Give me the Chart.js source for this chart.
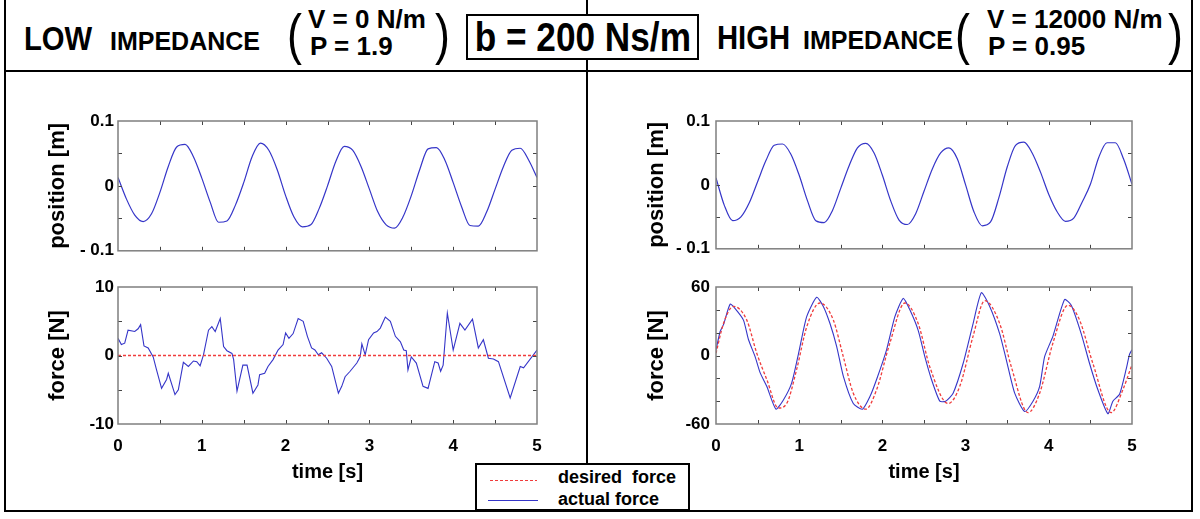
<!DOCTYPE html>
<html>
<head>
<meta charset="utf-8">
<script src="https://cdn.jsdelivr.net/npm/chart.js@4"></script>
<style>
  body { margin: 0; background: #fff; }
  #fig { position: relative; width: 1200px; height: 519px; overflow: hidden;
         font-family: 'Liberation Sans', Arial, sans-serif; font-weight: bold; color: #000; }
  #fig canvas { position: absolute; }
  .t { position: absolute; white-space: pre; line-height: 1; }
  .sq { transform: scaleX(0.86); transform-origin: 0 0; }
  .paren { font-weight: normal; font-size: 56px; transform: scaleX(0.8); transform-origin: 0 0; }
  .rule { position: absolute; background: #000; }
  #bbox { position: absolute; left: 466px; top: 14px; width: 229px; height: 42px; border: 2px solid #000;
          background: #fff; display: flex; align-items: center; justify-content: center; }
  #bbox span { display: inline-block; font-size: 40px; line-height: 1; white-space: pre; transform: scaleX(0.88); }
  #legend { position: absolute; left: 475px; top: 463px; width: 211px; height: 44px; border: 2px solid #000; background: #fff; }
  #legend .sw { position: absolute; height: 1px; }
  #legend .t { font-size: 18px; }
</style>
</head>
<body>
<div id="fig">
  <canvas id="posLow" width="587" height="165" style="left:0;top:100px"></canvas>
  <canvas id="forceLow" width="587" height="215" style="left:0;top:270px"></canvas>
  <canvas id="posHigh" width="608" height="165" style="left:587px;top:100px"></canvas>
  <canvas id="forceHigh" width="608" height="215" style="left:587px;top:270px"></canvas>

  <!-- frame -->
  <div class="rule" style="left:4px;top:0;width:2px;height:512px"></div>
  <div class="rule" style="left:1191px;top:0;width:2px;height:512px"></div>
  <div class="rule" style="left:4px;top:510px;width:1189px;height:2px"></div>
  <div class="rule" style="left:4px;top:70px;width:1189px;height:2px"></div>
  <div class="rule" style="left:586px;top:0;width:2px;height:463px"></div>

  <!-- header -->
  <div class="t sq" style="left:24px;top:21px;font-size:34px">LOW</div>
  <div class="t" style="left:110px;top:29px;font-size:25px">IMPEDANCE</div>
  <div class="t paren" style="left:287px;top:6px">(</div>
  <div class="t" style="left:308px;top:6px;font-size:26px">V = 0 N/m</div>
  <div class="t" style="left:310px;top:33px;font-size:26px">P = 1.9</div>
  <div class="t paren" style="left:435px;top:6px">)</div>

  <div id="bbox"><span>b = 200 Ns/m</span></div>

  <div class="t sq" style="left:717px;top:20px;font-size:34px">HIGH</div>
  <div class="t" style="left:803px;top:28px;font-size:25px">IMPEDANCE</div>
  <div class="t paren" style="left:955px;top:6px">(</div>
  <div class="t" style="left:987px;top:6px;font-size:26px">V = 12000 N/m</div>
  <div class="t" style="left:988px;top:33px;font-size:26px">P = 0.95</div>
  <div class="t paren" style="left:1168px;top:6px">)</div>

  <!-- legend -->
  <div id="legend">
    <div class="sw" style="left:13px;top:15px;width:47px;background:repeating-linear-gradient(90deg,#f03c3c 0 3px,transparent 3px 5px)"></div>
    <div class="t" style="left:81px;top:3px">desired  force</div>
    <div class="sw" style="left:11px;top:35px;width:50px;background:#3535c8"></div>
    <div class="t" style="left:81px;top:25px">actual force</div>
  </div>
</div>

<script>
// time axis for position traces [s]
const posTime = [0, 0.1, 0.2, 0.3, 0.4, 0.5, 0.6, 0.7, 0.8, 0.9,
  1.0, 1.1, 1.2, 1.3, 1.4, 1.5, 1.6, 1.7, 1.8, 1.9,
  2.0, 2.1, 2.2, 2.3, 2.4, 2.5, 2.6, 2.7, 2.8, 2.9,
  3.0, 3.1, 3.2, 3.3, 3.4, 3.5, 3.6, 3.7, 3.8, 3.9,
  4.0, 4.1, 4.2, 4.3, 4.4, 4.5, 4.6, 4.7, 4.8, 4.9, 5.0];

// position [m], low impedance
const posLow = [0.013, -0.020, -0.045, -0.055, -0.043, -0.010, 0.030, 0.060, 0.064, 0.045,
  0.012, -0.025, -0.056, -0.054, -0.030, 0.005, 0.045, 0.066, 0.055, 0.025,
  -0.015, -0.048, -0.063, -0.060, -0.035, 0.000, 0.038, 0.061, 0.055, 0.030,
  -0.005, -0.040, -0.060, -0.065, -0.048, -0.015, 0.025, 0.057, 0.059, 0.040,
  0.005, -0.032, -0.061, -0.062, -0.040, -0.005, 0.030, 0.055, 0.058, 0.040, 0.013];

// position [m], high impedance
const posHigh = [0.011, -0.032, -0.056, -0.050, -0.028, 0.005, 0.038, 0.062, 0.064, 0.048,
  0.015, -0.025, -0.056, -0.059, -0.040, -0.005, 0.030, 0.058, 0.065, 0.050,
  0.015, -0.025, -0.055, -0.062, -0.045, -0.010, 0.025, 0.050, 0.058, 0.041,
  0.000, -0.042, -0.064, -0.058, -0.020, 0.028, 0.062, 0.067, 0.050, 0.020,
  -0.015, -0.042, -0.057, -0.052, -0.027, 0.001, 0.043, 0.066, 0.066, 0.040, 0.001];

// force [N], low impedance
const forceLowDesiredT = [0, 5];
const forceLowDesired = [0, 0];
const forceLowT = [0, 0.04, 0.08, 0.12, 0.20, 0.24, 0.27, 0.31, 0.36, 0.42, 0.46, 0.52, 0.58, 0.60, 0.68,
  0.72, 0.78, 0.84, 0.90, 0.94, 0.98, 1.02, 1.08, 1.12, 1.16, 1.22, 1.26, 1.30, 1.36, 1.38,
  1.42, 1.49, 1.54, 1.61, 1.67, 1.69, 1.75, 1.79, 1.85, 1.91, 1.97, 2.00, 2.04, 2.09, 2.15,
  2.21, 2.26, 2.31, 2.35, 2.39, 2.43, 2.49, 2.55, 2.63, 2.67, 2.71, 2.77, 2.85, 2.89, 2.91,
  2.95, 2.99, 3.05, 3.09, 3.13, 3.19, 3.25, 3.31, 3.37, 3.41, 3.44, 3.46, 3.50, 3.56, 3.64,
  3.70, 3.78, 3.82, 3.85, 3.88, 3.93, 4.00, 4.08, 4.14, 4.23, 4.30, 4.36, 4.42, 4.48, 4.54,
  4.68, 4.80, 4.84, 5.00];
const forceLowActual = [2.5, 1.6, 1.8, 3.7, 3.5, 3.9, 4.5, 1.4, 1.1, -0.2, -2.1, -4.8, -3.5, -2.6, -5.7,
  -5.0, -1.0, -1.6, -0.8, -0.9, -1.5, 0.1, 3.7, 4.2, 3.5, 5.4, 1.3, 0.7, 0.3, -0.6,
  -5.2, -1.4, -1.4, -5.5, -4.3, -2.8, -2.6, -1.6, -0.6, 0.8, 1.6, 3.3, 2.5, 3.2, 5.4,
  5.0, 2.8, 1.1, 0.8, 0.1, 0.4, -0.4, -1.6, -5.5, -4.5, -3.1, -2.3, -1.1, -0.2, 1.7,
  0.1, 2.3, 3.3, 3.5, 4.0, 5.6, 5.0, 2.8, 2.0, 0.8, 0.7, -2.1, -0.2, -1.1, -4.5,
  -4.8, -0.9, -1.1, -2.3, -1.4, 6.2, 0.8, 4.7, 3.7, 5.3, 1.1, 2.3, -0.4, -0.5, -0.9,
  -6.2, -1.6, -1.8, 0.8];

// force [N], high impedance
const forceHighDesiredT = [0, 0.09, 0.21, 0.37, 0.49, 0.61, 0.75, 0.85, 0.97, 1.09, 1.25, 1.41,
  1.53, 1.65, 1.80, 1.93, 2.09, 2.27, 2.43, 2.57, 2.79, 2.93, 3.09, 3.23, 3.41, 3.55,
  3.75, 3.89, 4.05, 4.23, 4.37, 4.53, 4.75, 4.89, 5.0];
const forceHighDesired = [2, 28, 43, 31, 2, -21, -46, -42, -12, 25, 46, 31,
  -1, -33, -47, -30, 11, 46, 28, -10, -42, -27, 17, 48, 28, -10,
  -50, -33, 11, 44, 31, -7, -50, -30, -8];
const forceHighT = [0, 0.05, 0.09, 0.17, 0.23, 0.33, 0.39, 0.47, 0.53, 0.61, 0.72, 0.81, 0.91, 0.99,
  1.09, 1.21, 1.29, 1.37, 1.45, 1.53, 1.65, 1.76, 1.85, 1.93, 2.05, 2.15, 2.25, 2.33, 2.43,
  2.51, 2.59, 2.69, 2.76, 2.85, 2.97, 3.09, 3.19, 3.29, 3.41, 3.49, 3.59, 3.71, 3.81, 3.89,
  3.95, 4.05, 4.19, 4.27, 4.39, 4.49, 4.59, 4.71, 4.77, 4.85, 4.93, 4.97, 5.0];
const forceHighActual = [5, 21, 27, 45, 41, 31, 14, -1, -15, -27, -47, -39, -24, 1,
  34, 51, 43, 28, 8, -18, -42, -47, -36, -21, 5, 34, 50, 40, 22,
  -1, -21, -40, -40, -33, -7, 28, 55, 43, 19, -4, -33, -49, -40, -27,
  -1, 17, 49, 44, 19, -7, -30, -51, -40, -34, -12, 1, 5];

const FONT = "'Liberation Sans', Arial, sans-serif";
const BLUE = '#3535c8';
const RED = '#f03c3c';

function pts(ts, vs) {
  return ts.map((t, i) => ({ x: t, y: vs[i] }));
}

// grey box round the plot with small inward ticks on all four sides
const frameTicks = {
  id: 'frameTicks',
  afterDatasetsDraw(chart) {
    const { ctx, chartArea: a, scales: { x, y } } = chart;
    const inside = (s, v) => Math.abs(v - s.min) > 1e-9 && Math.abs(v - s.max) > 1e-9;
    ctx.save();
    ctx.strokeStyle = '#444';
    ctx.lineWidth = 1;
    ctx.beginPath();
    x.ticks.forEach(t => {
      if (!inside(x, t.value)) return;
      const px = Math.round(x.getPixelForValue(t.value)) + 0.5;
      ctx.moveTo(px, a.bottom); ctx.lineTo(px, a.bottom - 4);
      ctx.moveTo(px, a.top); ctx.lineTo(px, a.top + 4);
    });
    y.ticks.forEach(t => {
      if (!inside(y, t.value)) return;
      const py = Math.round(y.getPixelForValue(t.value)) + 0.5;
      ctx.moveTo(a.left, py); ctx.lineTo(a.left + 4, py);
      ctx.moveTo(a.right, py); ctx.lineTo(a.right - 4, py);
    });
    ctx.stroke();
    ctx.strokeStyle = '#7f7f7f';
    ctx.lineWidth = 1.5;
    ctx.strokeRect(a.left, a.top, a.right - a.left, a.bottom - a.top);
    ctx.restore();
  }
};

function makePlot(id, o) {
  return new Chart(document.getElementById(id), {
    type: 'line',
    data: { datasets: o.datasets },
    options: {
      responsive: false,
      animation: false,
      layout: { padding: { top: o.padTop, right: o.padRight, left: 0, bottom: 0 } },
      plugins: { legend: { display: false }, tooltip: { enabled: false } },
      elements: { point: { radius: 0 } },
      scales: {
        x: {
          type: 'linear', min: 0, max: 5,
          grid: { display: false, drawTicks: false },
          border: { display: false },
          ticks: {
            display: o.showX, stepSize: 0.5, autoSkip: false, maxRotation: 0, padding: 12,
            color: '#000', font: { family: FONT, size: 17, weight: 'bold' },
            callback: v => Math.abs(v - Math.round(v)) < 1e-6 ? String(Math.round(v)) : ''
          },
          title: {
            display: o.showX, text: 'time [s]', color: '#000',
            font: { family: FONT, size: 20, weight: 'bold' }, padding: { top: 0, bottom: 1 }
          },
          afterFit: s => { s.height = o.xH; }
        },
        y: {
          type: 'linear', min: o.yMin, max: o.yMax,
          grid: { display: false, drawTicks: false },
          border: { display: false },
          ticks: {
            stepSize: o.yStep, autoSkip: false, padding: o.tickPad,
            color: '#000', font: { family: FONT, size: 17, weight: 'bold' },
            callback: o.yLabel
          },
          title: {
            display: true, text: o.yTitle, color: '#000',
            font: { family: FONT, size: 22, weight: 'bold' }, padding: { top: o.titlePad, bottom: 0 }
          },
          afterFit: s => { s.width = o.yW; }
        }
      }
    },
    plugins: [frameTicks]
  });
}

const near = (a, b) => Math.abs(a - b) < 1e-6;
const posLabel = v => near(v, 0.1) ? '0.1' : near(v, 0) ? '0' : near(v, -0.1) ? '- 0.1' : '';

const leftCol = { padRight: 50, yW: 118, tickPad: 4, titlePad: 45 };
const rightCol = { padRight: 63, yW: 129, tickPad: 6, titlePad: 57 };
const topRow = { padTop: 21, xH: 8, showX: false };
const botRow = { padTop: 17, xH: 61, showX: true };

makePlot('posLow', Object.assign({}, leftCol, topRow, {
  yMin: -0.1, yMax: 0.1, yStep: 0.05, yLabel: posLabel, yTitle: 'position [m]',
  datasets: [
    { data: pts(posTime, posLow), borderColor: BLUE, borderWidth: 1.2, cubicInterpolationMode: 'monotone' }
  ]
}));

makePlot('forceLow', Object.assign({}, leftCol, botRow, {
  yMin: -10, yMax: 10, yStep: 5, yTitle: 'force [N]',
  yLabel: v => (Math.round(v) % 10 === 0) ? String(Math.round(v)) : '',
  datasets: [
    { data: pts(forceLowDesiredT, forceLowDesired), borderColor: RED, borderWidth: 1.5, borderDash: [3, 2] },
    { data: pts(forceLowT, forceLowActual), borderColor: BLUE, borderWidth: 1.1, tension: 0 }
  ]
}));

makePlot('posHigh', Object.assign({}, rightCol, topRow, {
  yMin: -0.1, yMax: 0.1, yStep: 0.05, yLabel: posLabel, yTitle: 'position [m]',
  datasets: [
    { data: pts(posTime, posHigh), borderColor: BLUE, borderWidth: 1.2, cubicInterpolationMode: 'monotone' }
  ]
}));

makePlot('forceHigh', Object.assign({}, rightCol, botRow, {
  yMin: -60, yMax: 60, yStep: 20, yTitle: 'force [N]',
  yLabel: v => (Math.round(v) % 60 === 0) ? String(Math.round(v)) : '',
  datasets: [
    { data: pts(forceHighDesiredT, forceHighDesired), borderColor: RED, borderWidth: 1.3, borderDash: [3, 2], cubicInterpolationMode: 'monotone' },
    { data: pts(forceHighT, forceHighActual), borderColor: BLUE, borderWidth: 1.1, tension: 0.2 }
  ]
}));
</script>
</body>
</html>
